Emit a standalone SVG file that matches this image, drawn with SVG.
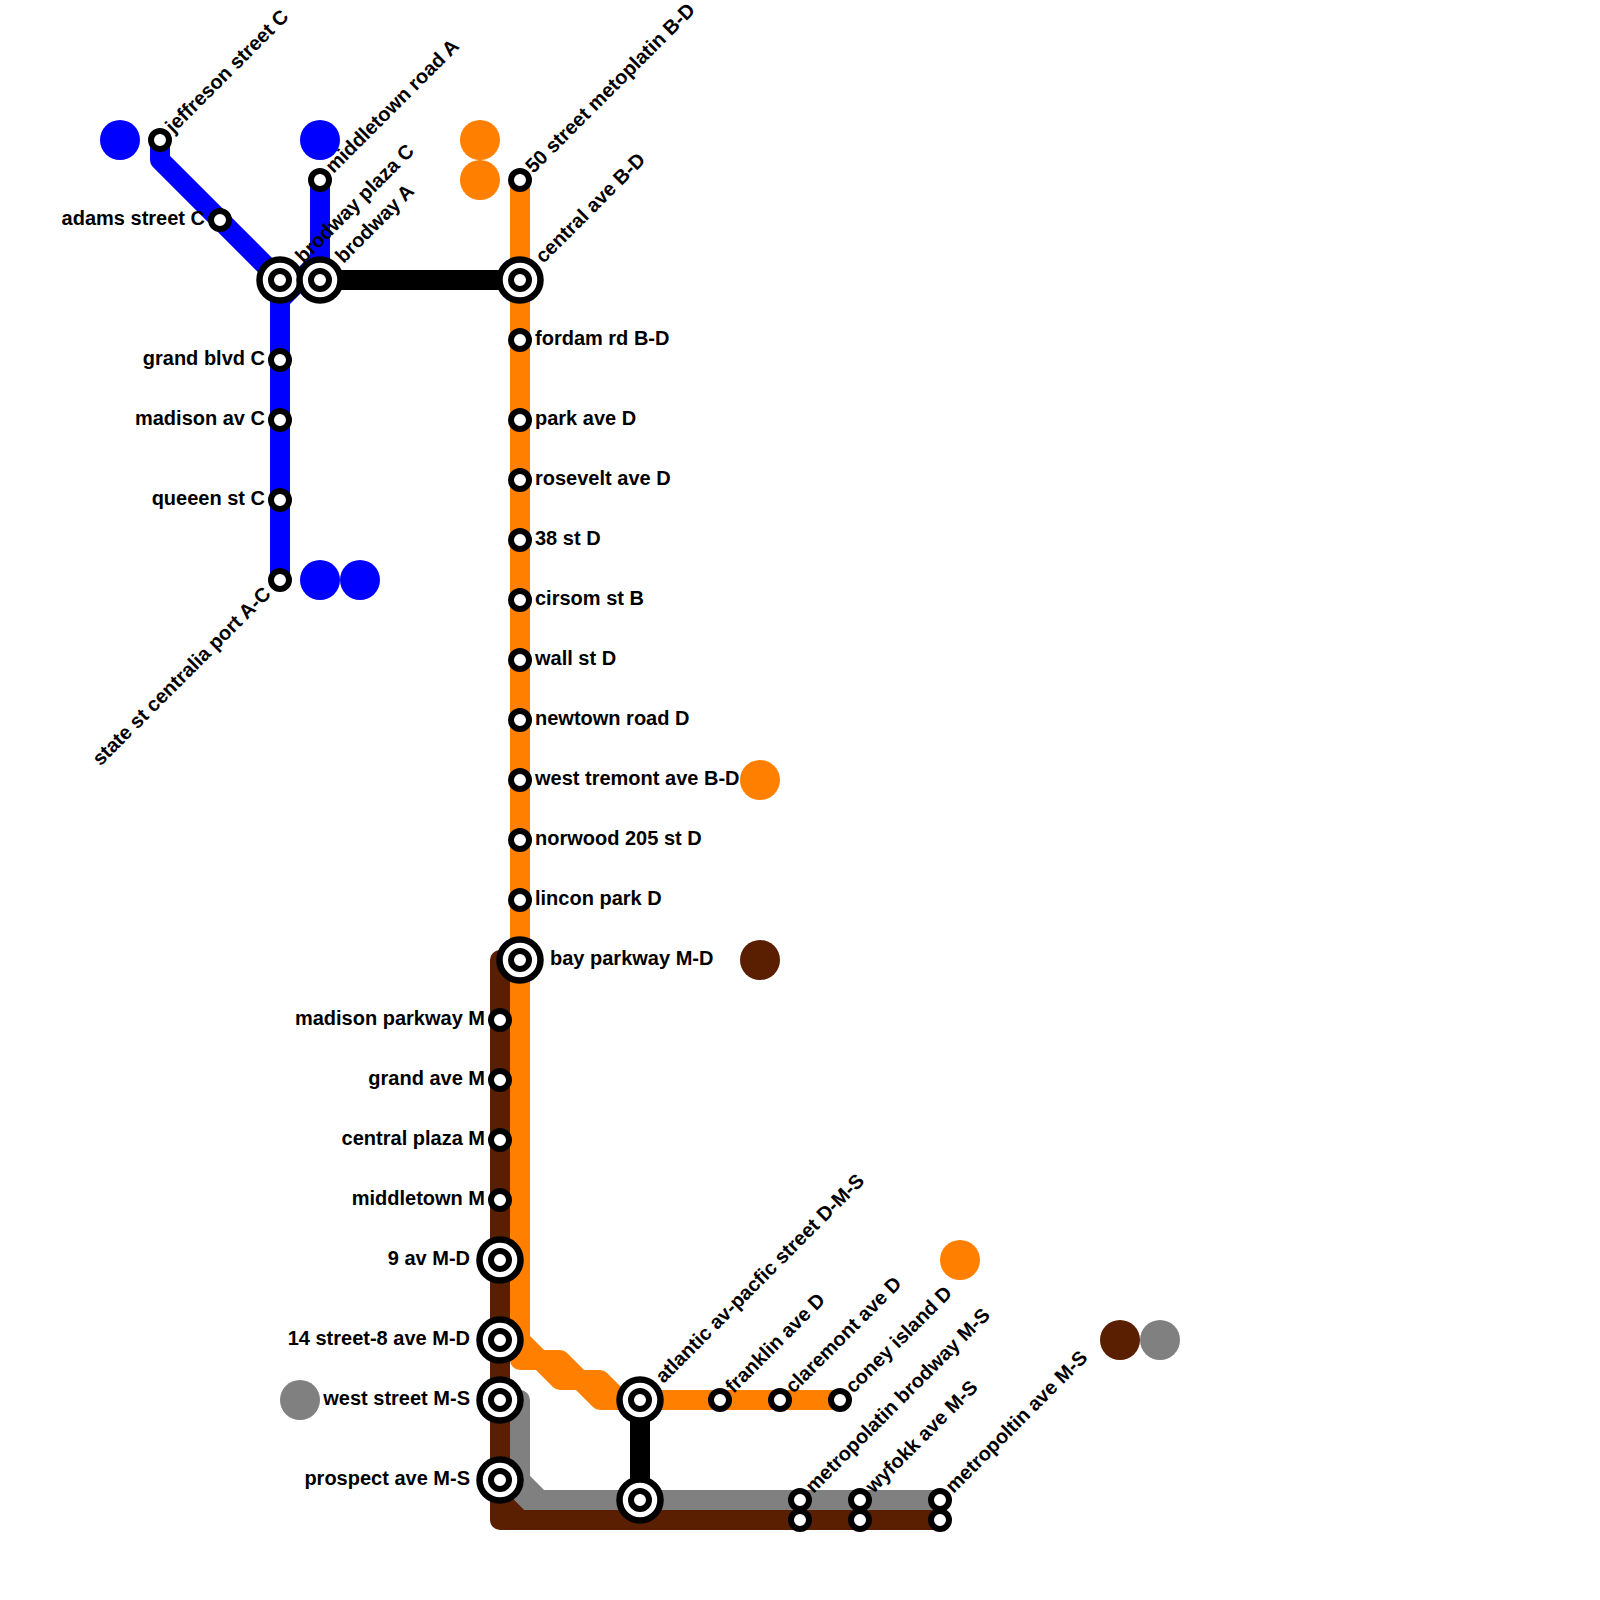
<svg xmlns="http://www.w3.org/2000/svg" width="1600" height="1600" viewBox="0 0 1600 1600">
<style>
.l{fill:none;stroke-width:20;stroke-linejoin:round}
.b{stroke:#0000ff}.o{stroke:#ff8000}.n{stroke:#5a1e00}.g{stroke:#808080}.k{stroke:#000}
.d{stroke:none}
.s{fill:#fff;stroke:#000;stroke-width:6}
.x{fill:#fff;stroke:#000;stroke-width:6.5}
.t{font-family:"Liberation Sans",Arial,sans-serif;font-weight:bold;font-size:20px;fill:#000}
.e{text-anchor:end}
</style>
<defs>
<g id="st"><circle class="s" r="9"/></g>
<g id="ix"><circle class="x" r="20.5"/><circle class="s" r="9"/></g>
</defs>
<g id="connectors">
<path class="l g" d="M500 1400H520V1480L540 1500H940M500 1480L520 1500H540"/>
<path class="l n" d="M520 960H500V1520H940M500 1500L520 1520"/>
<path class="l b" d="M160 140V160L280 280V580M320 180V260L280 300"/>
<path class="l o" d="M520 180V1360H540L560 1380H580L600 1400H840M520 1340L540 1360H560L580 1380H600L620 1400H640"/>
<path class="l k" d="M320 280H520M640 1400V1500"/>
</g>
<g id="dots">
<circle class="d" fill="#0000ff" cx="120" cy="140" r="20"/>
<circle class="d" fill="#0000ff" cx="320" cy="140" r="20"/>
<circle class="d" fill="#ff8000" cx="480" cy="140" r="20"/>
<circle class="d" fill="#ff8000" cx="480" cy="180" r="20"/>
<circle class="d" fill="#0000ff" cx="320" cy="580" r="20"/>
<circle class="d" fill="#0000ff" cx="360" cy="580" r="20"/>
<circle class="d" fill="#ff8000" cx="760" cy="780" r="20"/>
<circle class="d" fill="#5a1e00" cx="760" cy="960" r="20"/>
<circle class="d" fill="#ff8000" cx="960" cy="1260" r="20"/>
<circle class="d" fill="#5a1e00" cx="1120" cy="1340" r="20"/>
<circle class="d" fill="#808080" cx="1160" cy="1340" r="20"/>
<circle class="d" fill="#808080" cx="300" cy="1400" r="20"/>
</g>
<g id="n-jeffreson"><use href="#st" x="160" y="140"/><text class="t" transform="translate(173.5 134) rotate(-45)">jeffreson street C</text></g>
<g id="n-adams"><use href="#st" x="220" y="220"/><text class="t e" x="205" y="225">adams street C</text></g>
<g id="n-brodway-plaza"><use href="#ix" x="280" y="280"/><text class="t" transform="translate(303.5 264) rotate(-45)">brodway plaza C</text></g>
<g id="n-brodway"><use href="#ix" x="320" y="280"/><text class="t" transform="translate(343.5 264) rotate(-45)">brodway A</text></g>
<g id="n-middletown-road"><use href="#st" x="320" y="180"/><text class="t" transform="translate(333.5 174) rotate(-45)">middletown road A</text></g>
<g id="n-grand-blvd"><use href="#st" x="280" y="360"/><text class="t e" x="265" y="365">grand blvd C</text></g>
<g id="n-madison-av"><use href="#st" x="280" y="420"/><text class="t e" x="265" y="425">madison av C</text></g>
<g id="n-queen"><use href="#st" x="280" y="500"/><text class="t e" x="265" y="505">queeen st C</text></g>
<g id="n-state"><use href="#st" x="280" y="580"/><text class="t e" transform="translate(272 595) rotate(-45)">state st centralia port A-C</text></g>
<g id="n-50"><use href="#st" x="520" y="180"/><text class="t" transform="translate(533.5 174) rotate(-45)">50 street metoplatin B-D</text></g>
<g id="n-central"><use href="#ix" x="520" y="280"/><text class="t" transform="translate(543.5 264) rotate(-45)">central ave B-D</text></g>
<g id="n-fordam"><use href="#st" x="520" y="340"/><text class="t" x="535" y="345">fordam rd B-D</text></g>
<g id="n-park"><use href="#st" x="520" y="420"/><text class="t" x="535" y="425">park ave D</text></g>
<g id="n-rosevelt"><use href="#st" x="520" y="480"/><text class="t" x="535" y="485">rosevelt ave D</text></g>
<g id="n-38"><use href="#st" x="520" y="540"/><text class="t" x="535" y="545">38 st D</text></g>
<g id="n-cirsom"><use href="#st" x="520" y="600"/><text class="t" x="535" y="605">cirsom st B</text></g>
<g id="n-wall"><use href="#st" x="520" y="660"/><text class="t" x="535" y="665">wall st D</text></g>
<g id="n-newtown"><use href="#st" x="520" y="720"/><text class="t" x="535" y="725">newtown road D</text></g>
<g id="n-tremont"><use href="#st" x="520" y="780"/><text class="t" x="535" y="785">west tremont ave B-D</text></g>
<g id="n-norwood"><use href="#st" x="520" y="840"/><text class="t" x="535" y="845">norwood 205 st D</text></g>
<g id="n-lincon"><use href="#st" x="520" y="900"/><text class="t" x="535" y="905">lincon park D</text></g>
<g id="n-bay"><use href="#ix" x="520" y="960"/><text class="t" x="550" y="965">bay parkway M-D</text></g>
<g id="n-madison-parkway"><use href="#st" x="500" y="1020"/><text class="t e" x="485" y="1025">madison parkway M</text></g>
<g id="n-grand-ave"><use href="#st" x="500" y="1080"/><text class="t e" x="485" y="1085">grand ave M</text></g>
<g id="n-central-plaza"><use href="#st" x="500" y="1140"/><text class="t e" x="485" y="1145">central plaza M</text></g>
<g id="n-middletown"><use href="#st" x="500" y="1200"/><text class="t e" x="485" y="1205">middletown M</text></g>
<g id="n-9av"><use href="#ix" x="500" y="1260"/><text class="t e" x="470" y="1265">9 av M-D</text></g>
<g id="n-14"><use href="#ix" x="500" y="1340"/><text class="t e" x="470" y="1345">14 street-8 ave M-D</text></g>
<g id="n-west"><use href="#ix" x="500" y="1400"/><text class="t e" x="470" y="1405">west street M-S</text></g>
<g id="n-prospect"><use href="#ix" x="500" y="1480"/><text class="t e" x="470" y="1485">prospect ave M-S</text></g>
<g id="n-atlantic"><use href="#ix" x="640" y="1400"/><text class="t" transform="translate(663.5 1384) rotate(-45)">atlantic av-pacfic street D-M-S</text></g>
<g id="n-atlantic-s"><use href="#ix" x="640" y="1500"/></g>
<g id="n-franklin"><use href="#st" x="720" y="1400"/><text class="t" transform="translate(733.5 1394) rotate(-45)">franklin ave D</text></g>
<g id="n-claremont"><use href="#st" x="780" y="1400"/><text class="t" transform="translate(793.5 1394) rotate(-45)">claremont ave D</text></g>
<g id="n-coney"><use href="#st" x="840" y="1400"/><text class="t" transform="translate(853.5 1394) rotate(-45)">coney island D</text></g>
<g id="n-metro-brodway"><use href="#st" x="800" y="1500"/><use href="#st" x="800" y="1520"/><text class="t" transform="translate(813.5 1494) rotate(-45)">metropolatin brodway M-S</text></g>
<g id="n-wyfokk"><use href="#st" x="860" y="1500"/><use href="#st" x="860" y="1520"/><text class="t" transform="translate(873.5 1494) rotate(-45)">wyfokk ave M-S</text></g>
<g id="n-metropolitin"><use href="#st" x="940" y="1500"/><use href="#st" x="940" y="1520"/><text class="t" transform="translate(953.5 1494) rotate(-45)">metropoltin ave M-S</text></g>
</svg>
